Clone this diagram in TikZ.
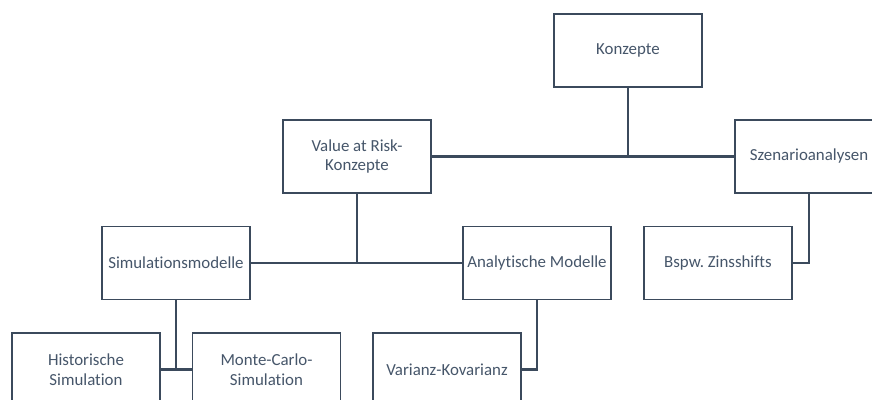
\documentclass[tikz,border=0pt]{standalone}
\usepackage{fontspec}
\setmainfont[Ligatures=NoCommon]{Carlito}
\usetikzlibrary{positioning,calc}
\definecolor{kline}{HTML}{3B4A5C}
\definecolor{ktext}{HTML}{46566A}
\tikzset{
  orgbox/.style={draw=kline,fill=white,line width=1.1pt,minimum width=2.96cm,minimum height=1.46cm,align=center,text=ktext,inner sep=1pt,font=\fontsize{9.6}{11.2}\selectfont},
  link/.style={draw=kline,line width=1.2pt},
}
\begin{document}
\frenchspacing
\begin{tikzpicture}
  \clip (0,0) rectangle (17.44,8);
  \fill[white] (0,0) rectangle (17.44,8);
  % ebene 0 und 1
  \node[orgbox] (konz) at (12.56,6.99) {Konzepte};
  \node[orgbox] (var) at (7.14,4.87) {Value at Risk-\\Konzepte};
  \node[orgbox] (szen) at (16.18,4.87) {Szenarioanalysen};
  % ebene 2
  \node[orgbox] (sim) at (3.52,2.74) {Simulationsmodelle};
  \node[orgbox] (ana) at (10.74,2.74) {Analytische Modelle};
  \node[orgbox] (bsp) at (14.36,2.74) {Bspw.\ Zinsshifts};
  % ebene 3
  \node[orgbox] (hist) at (1.72,0.61) {Historische\\Simulation};
  \node[orgbox] (mc) at (5.33,0.61) {Monte-Carlo-\\Simulation};
  \node[orgbox] (vk) at (8.94,0.61) {Varianz-Kovarianz};
  % verbindungen
  \draw[link] (var) -- (szen);
  \draw[link] (konz) -- (konz |- var);
  \draw[link] (sim) -- (ana);
  \draw[link] (var) -- (var |- sim);
  \draw[link] (szen.south) |- (bsp.east);
  \draw[link] (ana.south) |- (vk.east);
  \draw[link] (hist) -- (mc);
  \draw[link] (sim) -- (sim |- hist);
\end{tikzpicture}
\end{document}
